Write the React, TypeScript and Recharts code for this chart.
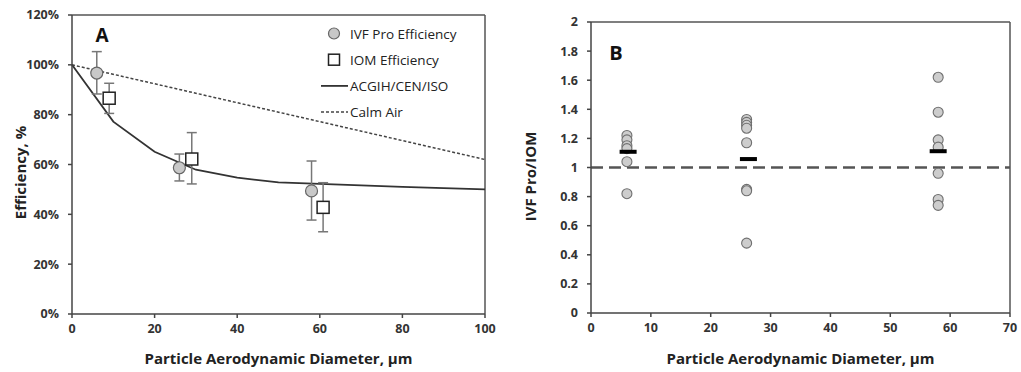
import { ComposedChart, Scatter, Line, XAxis, YAxis, ErrorBar, ReferenceLine, Label } from 'recharts';

const FONT = '"Open Sans", sans-serif';

// Panel A: efficiency vs particle size
const ivfDiameter = [6, 26, 58];
const ivfEff = [96.7, 58.7, 49.4];
const ivfLow = [88.3, 53.4, 37.7];
const ivfHigh = [105.3, 64.2, 61.4];

const iomDiameter = [9, 29, 60.8];
const iomEff = [86.6, 62.2, 42.8];
const iomLow = [80.5, 52.2, 33.0];
const iomHigh = [92.6, 72.8, 52.7];

const conventionDiameter = [0, 10, 20, 30, 40, 50, 60, 70, 80, 90, 100];
const conventionEff = [100, 77.2, 65.1, 57.9, 54.7, 52.8, 52.2, 51.6, 51.0, 50.5, 50.0];

const calmDiameter = [0, 100];
const calmEff = [100, 62];

const ticksA_x = [0, 20, 40, 60, 80, 100];
const ticksA_y = [0, 20, 40, 60, 80, 100, 120];

// Panel B: ratio IVF Pro / IOM
const ratioDiameter = [6, 6, 6, 6, 6, 6, 26, 26, 26, 26, 26, 26, 26, 26, 58, 58, 58, 58, 58, 58, 58];
const ratioValue = [1.22, 1.19, 1.15, 1.13, 1.04, 0.82, 1.33, 1.31, 1.29, 1.27, 1.17, 0.85, 0.84, 0.48, 1.62, 1.38, 1.19, 1.14, 0.96, 0.78, 0.74];

const meanDiameter = [6.2, 26.3, 58];
const meanRatio = [1.108, 1.058, 1.112];

const ticksB_x = [0, 10, 20, 30, 40, 50, 60, 70];
const ticksB_y = [0, 0.2, 0.4, 0.6, 0.8, 1, 1.2, 1.4, 1.6, 1.8, 2];

const legendItems = [
  { label: 'IVF Pro Efficiency', kind: 'circle' },
  { label: 'IOM Efficiency', kind: 'square' },
  { label: 'ACGIH/CEN/ISO', kind: 'line' },
  { label: 'Calm Air', kind: 'dotted' },
];

const ivfData = ivfDiameter.map((x, i) => ({ x, y: ivfEff[i], err: [ivfEff[i] - ivfLow[i], ivfHigh[i] - ivfEff[i]] }));
const iomData = iomDiameter.map((x, i) => ({ x, y: iomEff[i], err: [iomEff[i] - iomLow[i], iomHigh[i] - iomEff[i]] }));
const conventionData = conventionDiameter.map((x, i) => ({ x, y: conventionEff[i] }));
const calmData = calmDiameter.map((x, i) => ({ x, y: calmEff[i] }));
const ratioData = ratioDiameter.map((x, i) => ({ x, y: ratioValue[i] }));
const meanData = meanDiameter.map((x, i) => ({ x, y: meanRatio[i] }));

const tickStyle = { fontSize: 12.5, fontWeight: 700, fill: '#333', fontFamily: FONT };
const titleStyle = { fontSize: 15, fontWeight: 700, fill: '#222', fontFamily: FONT };

const VTitle = ({ viewBox, value, shift }: any) => {
  const cx = viewBox.x + 20;
  const cy = viewBox.y + viewBox.height / 2 + shift;
  return (
    <text transform={`translate(${cx},${cy}) rotate(-90)`} textAnchor="middle" dominantBaseline="central" style={titleStyle}>
      {value}
    </text>
  );
};

const LegendA = ({ x, y }: { x: number; y: number }) => (
  <g transform={`translate(${x},${y})`}>
    {legendItems.map((item, i) => {
      const ly = i * 26.2;
      return (
        <g key={item.label}>
          {item.kind === 'circle' && <circle cx={13} cy={ly} r={5.5} fill="#c8c8c8" stroke="#666" strokeWidth={1.2} />}
          {item.kind === 'square' && <rect x={7.5} y={ly - 5.5} width={11} height={11} fill="#fff" stroke="#222" strokeWidth={1.5} />}
          {item.kind === 'line' && <line x1={0} x2={27} y1={ly} y2={ly} stroke="#333" strokeWidth={1.8} />}
          {item.kind === 'dotted' && <line x1={0} x2={27} y1={ly} y2={ly} stroke="#444" strokeWidth={1.5} strokeDasharray="3 2" />}
          <text x={29} y={ly} dominantBaseline="central" style={{ fontSize: 13.5, fill: '#222', fontFamily: FONT }}>
            {item.label}
          </text>
        </g>
      );
    })}
  </g>
);

const PanelA = () => (
  <ComposedChart width={510} height={372} margin={{ top: 15, right: 25, bottom: 0, left: 0 }}>
    <XAxis type="number" dataKey="x" domain={[0, 100]} ticks={ticksA_x} height={58} tick={tickStyle} tickSize={4} tickMargin={6} stroke="#444" strokeWidth={1.5}>
      <Label value="Particle Aerodynamic Diameter, µm" position="insideBottom" offset={8} style={titleStyle} />
    </XAxis>
    <YAxis type="number" domain={[0, 120]} ticks={ticksA_y} width={72} tick={tickStyle} tickSize={4} tickMargin={9} tickFormatter={(v) => `${v}%`} stroke="#444" strokeWidth={1.5}
      label={<VTitle value="Efficiency, %" shift={8} />} />
    <ReferenceLine y={120} stroke="#555" strokeWidth={1.5} />
    <ReferenceLine x={100} stroke="#555" strokeWidth={1.5} />
    <Line data={calmData} dataKey="y" type="linear" dot={false} stroke="#444" strokeWidth={1.5} strokeDasharray="3 2" isAnimationActive={false} />
    <Line data={conventionData} dataKey="y" type="linear" dot={false} stroke="#333" strokeWidth={1.8} isAnimationActive={false} />
    <Scatter data={ivfData} dataKey="y" isAnimationActive={false}
      shape={(p: any) => <circle cx={p.cx} cy={p.cy} r={6} fill="#c8c8c8" stroke="#666" strokeWidth={1.2} />}>
      <ErrorBar dataKey="err" direction="y" width={5} stroke="#777" strokeWidth={1.5} />
    </Scatter>
    <Scatter data={iomData} dataKey="y" isAnimationActive={false}
      shape={(p: any) => <rect x={p.cx - 6} y={p.cy - 6} width={12} height={12} fill="#fff" stroke="#222" strokeWidth={1.5} />}>
      <ErrorBar dataKey="err" direction="y" width={5} stroke="#777" strokeWidth={1.5} />
    </Scatter>
    <LegendA x={321} y={33.5} />
    <text x={102} y={35} textAnchor="middle" dominantBaseline="central" style={{ fontSize: 19, fontWeight: 700, fill: '#111', fontFamily: FONT }}>A</text>
  </ComposedChart>
);

const PanelB = () => (
  <ComposedChart width={511} height={372} margin={{ top: 22, right: 11, bottom: 0, left: 0 }}>
    <XAxis type="number" dataKey="x" domain={[0, 70]} ticks={ticksB_x} height={59} tick={tickStyle} tickSize={4} tickMargin={6} stroke="#444" strokeWidth={1.5}>
      <Label value="Particle Aerodynamic Diameter, µm" position="insideBottom" offset={8} style={titleStyle} />
    </XAxis>
    <YAxis type="number" domain={[0, 2]} ticks={ticksB_y} width={81} tick={tickStyle} tickSize={4} tickMargin={9} stroke="#444" strokeWidth={1.5}
      label={<VTitle value="IVF Pro/IOM" shift={9} />} />
    <ReferenceLine y={2} stroke="#555" strokeWidth={1.5} />
    <ReferenceLine x={70} stroke="#555" strokeWidth={1.5} />
    <ReferenceLine y={1} stroke="#555" strokeWidth={2.5} strokeDasharray="12 6" />
    <Scatter data={ratioData} dataKey="y" isAnimationActive={false}
      shape={(p: any) => <circle cx={p.cx} cy={p.cy} r={5} fill="#cdcdcd" stroke="#6f6f6f" strokeWidth={1.1} />} />
    <Scatter data={meanData} dataKey="y" isAnimationActive={false}
      shape={(p: any) => <rect x={p.cx - 8.5} y={p.cy - 2} width={17} height={4} fill="#000" />} />
    <text x={106} y={52} textAnchor="middle" dominantBaseline="central" style={{ fontSize: 20, fontWeight: 700, fill: '#111', fontFamily: FONT }}>B</text>
  </ComposedChart>
);

export default function App() {
  return (
    <div style={{ position: 'absolute', left: 0, top: 0, width: 1021, height: 372, background: '#fff', display: 'flex' }}>
      <div style={{ position: 'relative', width: 510, height: 372 }}>
        <PanelA />
      </div>
      <div style={{ position: 'relative', width: 511, height: 372 }}>
        <PanelB />
      </div>
    </div>
  );
}
